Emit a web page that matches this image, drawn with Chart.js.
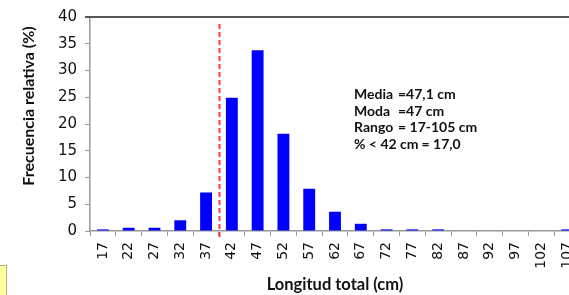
<!DOCTYPE html>
<html>
<head>
<meta charset="utf-8">
<script src="https://cdn.jsdelivr.net/npm/chart.js@4"></script>
<style>
  html, body { margin: 0; padding: 0; background: #fff; overflow: hidden; }
  #wrap { position: relative; width: 569px; height: 295px; overflow: hidden; }
  #box { position: absolute; left: 0; top: 265px; width: 6px; height: 30px; background: #ffff9c; border-top: 1px solid #b0b090; border-right: 1px solid #b0b090; }
</style>
</head>
<body>
<div id="wrap">
  <canvas id="myChart" width="600" height="295"></canvas>
  <div id="box"></div>
</div>
<script>
// datos
const clases = ['17', '22', '27', '32', '37', '42', '47', '52', '57', '62', '67', '72', '77', '82', '87', '92', '97', '102', '107'];
const frecuencia = [0.3, 0.6, 0.6, 2.0, 7.2, 24.9, 33.8, 18.2, 7.9, 3.6, 1.35, 0.3, 0.3, 0.3, 0, 0, 0, 0, 0.3];
const ticksY = [0, 5, 10, 15, 20, 25, 30, 35, 40];
const corte = 4.5; // posición de 42 cm (entre 37 y 42)
const statEtiquetas = ['Media', 'Moda', 'Rango', '% < 42 cm'];
const statValores = ['=47,1 cm', '=47 cm', '= 17-105 cm', '= 17,0'];

const negrita = '"Lato", "Open Sans", sans-serif';

// plugin: borde superior, línea de corte, textos
const extras = {
    id: 'extras',
    afterDraw(chart) {
        const { ctx, chartArea, scales } = chart;
        ctx.save();
        // borde superior
        ctx.strokeStyle = '#555';
        ctx.lineWidth = 2;
        ctx.beginPath();
        ctx.moveTo(chartArea.left - 5, chartArea.top);
        ctx.lineTo(chartArea.right, chartArea.top);
        ctx.stroke();
        // línea discontinua roja
        const x = Math.round(scales.x.getPixelForValue(corte)) + 0.5;
        ctx.strokeStyle = '#ff3b3b';
        ctx.lineWidth = 2;
        ctx.setLineDash([5, 3]);
        ctx.beginPath();
        ctx.moveTo(x, chartArea.top + 7);
        ctx.lineTo(x, chartArea.bottom + 6);
        ctx.stroke();
        ctx.setLineDash([]);
        // título eje y
        ctx.fillStyle = '#111';
        ctx.font = 'bold 16px ' + negrita;
        ctx.textAlign = 'center';
        ctx.textBaseline = 'middle';
        ctx.translate(29, 106);
        ctx.rotate(-Math.PI / 2);
        ctx.fillText('Frecuencia relativa (%)', 0, 0);
        ctx.restore();
        // estadísticas
        ctx.save();
        ctx.fillStyle = '#111';
        ctx.font = 'bold 14px ' + negrita;
        ctx.textBaseline = 'alphabetic';
        ctx.textAlign = 'left';
        statEtiquetas.forEach((t, i) => {
            const y = 99 + i * 16.7;
            ctx.fillText(t, 354, y);
            const vx = i < 3 ? 398 : 354 + ctx.measureText(t).width + 3;
            ctx.fillText(statValores[i], vx, y);
        });
        ctx.restore();
    }
};

const ctx_grafico = document.getElementById('myChart').getContext('2d');
const grafico = new Chart(ctx_grafico, {
    type: 'bar',
    data: {
        labels: clases,
        datasets: [{
            data: frecuencia,
            backgroundColor: '#0000ff',
            borderWidth: 0,
            barPercentage: 0.46,
            categoryPercentage: 1.0
        }]
    },
    options: {
        responsive: false,
        animation: false,
        layout: { padding: { top: 15, right: 20, left: 0, bottom: 0 } },
        plugins: { legend: { display: false }, tooltip: { enabled: false } },
        scales: {
            x: {
                grid: { offset: true, drawOnChartArea: false, tickLength: 5, color: '#999' },
                border: { color: '#999', width: 1.5 },
                ticks: {
                    autoSkip: false, minRotation: 90, maxRotation: 90, padding: 6,
                    color: '#111', font: { family: '"DejaVu Sans", Verdana, sans-serif', size: 14 }
                },
                title: {
                    display: true, text: 'Longitud total (cm)', color: '#111',
                    font: { family: negrita, size: 16.5, weight: 'bold' }, padding: { top: 0, bottom: 0 }
                },
                afterFit(s) { s.height = 64; }
            },
            y: {
                min: 0, max: 40,
                afterBuildTicks(s) { s.ticks = ticksY.map(v => ({ value: v })); },
                grid: { drawOnChartArea: false, tickLength: 5, color: '#999' },
                border: { color: '#999', width: 1.5 },
                ticks: {
                    padding: 8, color: '#111',
                    font: { family: '"DejaVu Sans", Verdana, sans-serif', size: 15 }
                },
                afterFit(s) { s.width = 90; }
            }
        }
    },
    plugins: [extras]
});
</script>
</body>
</html>
